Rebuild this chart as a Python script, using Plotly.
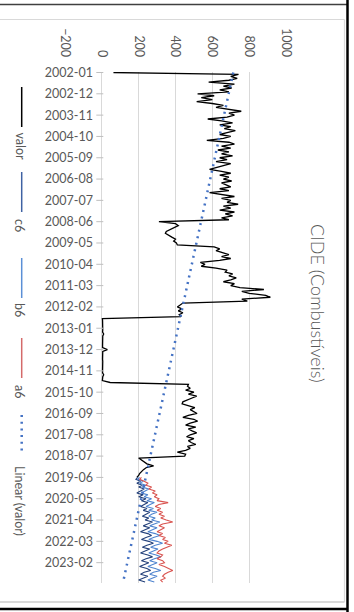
import numpy as np
import pandas as pd
import plotly.graph_objects as go

# Monthly categories, Jan 2002 .. Dec 2023
months = pd.period_range("2002-01", "2023-12", freq="M").strftime("%Y-%m").tolist()
tick_labels = months[::11]
value_ticks = [-200, 0, 200, 400, 600, 800, 1000]

# CIDE collected (valor), 2002-01 .. 2019-06
valor = [
    63,
    742, 700, 735, 690, 580, 720, 660, 705, 640, 690,
    520, 610, 540, 600, 515, 600, 660, 620, 700, 757,
    690, 720, 680, 575, 650, 710, 640, 700, 665, 725,
    680, 640, 700, 660, 570, 690, 720, 650, 700, 630,
    690, 650, 710, 640, 680, 620, 700, 660, 620, 585,
    650, 700, 640, 690, 660, 705, 650, 680, 700, 640,
    690, 585, 660, 720, 650, 700, 680, 740, 660, 700,
    640, 720, 670, 710, 650, 690,
    310, 400, 415, 390, 370, 350, 345, 360, 380, 400, 390, 405, 410,
    610,
    640, 620, 660, 690, 650, 700, 640, 535, 560, 540, 620,
    680, 670, 710, 690, 730, 700, 660, 720, 700,
    750, 880, 760, 800, 890, 915, 760, 790,
    440, 425, 410, 435, 415, 440, 420, 430,
    3, 4, 5, 4, 3, 4, 5, 4, 10, 5, 4, 3, 4, 5, 4, 4, 30,
    5, 4, 3, 4, 4, 5, 4, 3, 4, 5, 4, 4, 10, 5, 4, 3,
    45,
    470, 465, 480, 455, 500, 470, 515, 490, 460, 440,
    436, 470, 505, 480, 500, 517, 470, 440, 500, 520,
    480, 455, 510, 470, 490, 515, 480, 460, 500, 470,
    485, 510, 465, 480, 455, 410, 455, 450,
    200, 215, 227, 245, 281, 240, 226, 215, 205, 200, 190,
]

# Series from 2019-06 .. 2023-12
c6 = [
    195, 185, 210, 190, 220, 200, 230, 210, 190, 225, 200, 240, 215, 250,
    230, 210, 245, 225, 260, 240, 220, 255, 235, 275, 250, 225, 260, 230,
    210, 250, 270, 240, 215, 255, 280, 245, 220, 260, 235, 210, 250, 275,
    240, 215, 255, 230, 205, 245, 265, 230, 210, 250, 225, 200, 235,
]
b6 = [
    205, 195, 225, 205, 240, 220, 255, 235, 215, 250, 230, 270, 245, 285,
    260, 240, 280, 255, 300, 270, 255, 290, 270, 315, 285, 260, 300, 270,
    250, 290, 315, 280, 255, 300, 330, 290, 265, 305, 280, 255, 295, 320,
    285, 260, 300, 275, 250, 290, 320, 280, 260, 300, 275, 250, 285,
]
a6 = [
    215, 205, 230, 250, 240, 270, 255, 290, 275, 300, 285, 310, 300, 360,
    310, 290, 320, 300, 330, 310, 340, 320, 350, 385, 330, 310, 340, 320,
    300, 330, 310, 345, 330, 360, 340, 380, 350, 330, 310, 300, 330, 320,
    300, 330, 340, 310, 340, 360, 385, 360, 340, 330, 345, 320, 330,
]

n = len(months)
valor_full = valor + [None] * (n - len(valor))
c6_full = [None] * (n - len(c6)) + c6
b6_full = [None] * (n - len(b6)) + b6
a6_full = [None] * (n - len(a6)) + a6

# Linear trend of valor over the category index, extended over the whole axis
idx = np.arange(len(valor))
slope, intercept = np.polyfit(idx, np.array(valor, dtype=float), 1)
trend = (intercept + slope * np.arange(n)).tolist()

GREY_TXT = "#595959"
GRID = "#d9d9d9"
FONT = "Lato"
C_VALOR = "#000000"
C_C6 = "#23407a"
C_B6 = "#4f84cf"
C_A6 = "#d9534f"
C_TREND = "#4472c4"

fig = go.Figure()
fig.add_trace(go.Scatter(x=valor_full, y=months, mode="lines",
                         line=dict(color=C_VALOR, width=1.3), name="valor"))
fig.add_trace(go.Scatter(x=c6_full, y=months, mode="lines",
                         line=dict(color=C_C6, width=1.1), name="c6"))
fig.add_trace(go.Scatter(x=b6_full, y=months, mode="lines",
                         line=dict(color=C_B6, width=1.1), name="b6"))
fig.add_trace(go.Scatter(x=a6_full, y=months, mode="lines",
                         line=dict(color=C_A6, width=1.1), name="a6"))
fig.add_trace(go.Scatter(x=trend, y=months, mode="lines",
                         line=dict(color=C_TREND, width=2.5, dash="2px,4.7px"),
                         name="Linear (valor)"))
# small outward ticks on the category axis (which sits at value 0)
fig.add_trace(go.Scatter(x=[-11] * len(tick_labels), y=tick_labels, mode="markers",
                         marker=dict(symbol="line-ew", size=5,
                                     line=dict(color="#bfbfbf", width=1)),
                         hoverinfo="skip"))

# plot-area pixel frame used for placing decorations
L, R, T, B = 65, 286, 72, 583
W_, H_ = R - L, B - T


def px(xp):
    return (xp - L) / W_


def py(yp):
    return (B - yp) / H_


shapes = []
# chart frame
for x0, y0, x1, y1, col, w in [
    (0, 19.5, 344.5, 19.5, "#d9d9d9", 1.2),
    (344.5, 19.5, 344.5, 602, "#d9d9d9", 1.2),
    (0, 602, 344.5, 602, "#d9d9d9", 2),
    (0, 4.5, 348, 4.5, "#404040", 1.5),
    (347.5, 0, 347.5, 612, "#000000", 2.5),
    (0, 609, 348, 609, "#000000", 2.5),
]:
    shapes.append(dict(type="line", xref="paper", yref="paper",
                       x0=px(x0), y0=py(y0), x1=px(x1), y1=py(y1),
                       line=dict(color=col, width=w)))

# legend, drawn rotated along the left edge
legend_items = [
    ("valor", C_VALOR, 1.5, "solid", 87, 127, 146.5),
    ("c6", "#3f62a3", 1.5, "solid", 172, 212, 225),
    ("b6", "#5b8fd6", 1.5, "solid", 258, 298, 310),
    ("a6", "#d46a6a", 1.5, "solid", 338, 378, 391),
    ("Linear (valor)", C_TREND, 2.5, "2px,4.7px", 415, 455, 501),
]
annotations = []
for label, col, w, dash, ya, yb, yt in legend_items:
    shapes.append(dict(type="line", xref="paper", yref="paper",
                       x0=px(21.7), y0=py(ya), x1=px(21.7), y1=py(yb),
                       line=dict(color=col, width=w, dash=dash)))
    annotations.append(dict(text=label, xref="paper", yref="paper",
                            x=px(20), y=py(yt), xanchor="center", yanchor="middle",
                            textangle=90, showarrow=False,
                            font=dict(family=FONT, size=12.5, color=GREY_TXT)))

annotations.append(dict(text="CIDE (Combustíveis)", xref="paper", yref="paper",
                        x=px(318), y=py(303), xanchor="center", yanchor="middle",
                        textangle=90, showarrow=False,
                        font=dict(family=FONT, size=18, color=GREY_TXT, weight=300)))

fig.update_layout(
    width=354, height=612,
    margin=dict(l=L, r=354 - R, t=T, b=612 - B),
    paper_bgcolor="white", plot_bgcolor="white",
    showlegend=False,
    shapes=shapes, annotations=annotations,
    xaxis=dict(range=[-200, 1000], tickvals=value_ticks, side="top",
               tickangle=90, showgrid=True, gridcolor=GRID, gridwidth=1,
               zeroline=True, zerolinecolor=GRID, zerolinewidth=1.2,
               showline=False, ticks="", ticklabelstandoff=12,
               tickfont=dict(family=FONT, size=12.5, color=GREY_TXT)),
    yaxis=dict(type="category", categoryarray=months, range=[263.5, -0.26],
               tickvals=tick_labels, ticktext=tick_labels,
               showgrid=False, zeroline=False, showline=False, ticks="",
               ticklabelstandoff=-29,
               tickfont=dict(family=FONT, size=12.5, color=GREY_TXT)),
)

fig.write_html("out.html")
